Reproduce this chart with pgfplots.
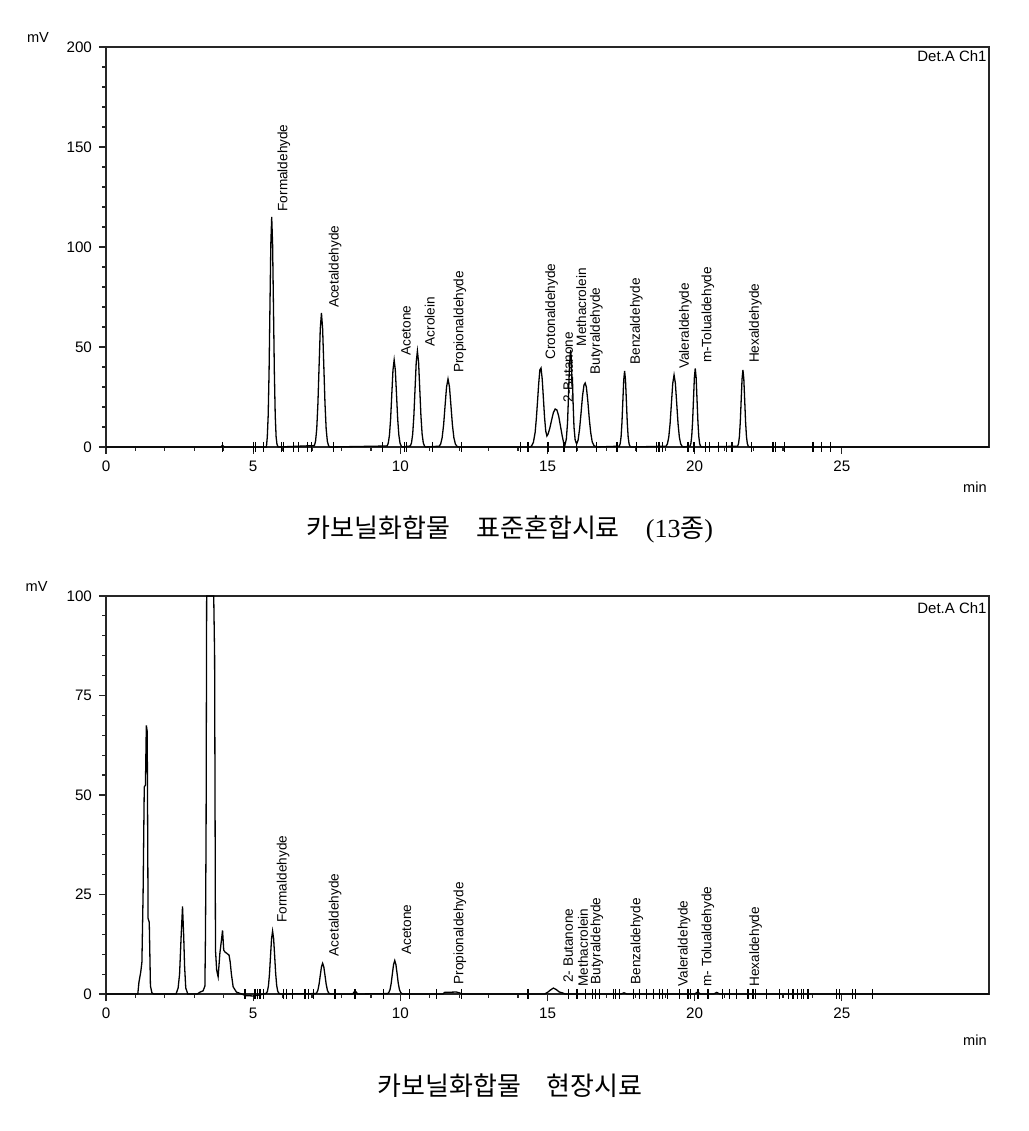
\documentclass[border=0pt]{standalone}
\usepackage{pgfplots}
\pgfplotsset{compat=1.18}
\usepackage{fontspec}
\setmainfont{Liberation Sans}
\newfontfamily\cjk{Noto Sans CJK KR}
\newfontfamily\serif{Liberation Serif}

\pgfplotsset{
  chrom/.style={
    scale only axis, width=441.5pt,
    xmin=0, xmax=30, xtick={0,5,10,15,20,25}, minor x tick num=4,
    minor y tick num=4,
    tick pos=left, tick align=outside,
    major tick length=3.5pt, minor tick length=1.8pt,
    axis line style={line width=0.8pt, black!85},
    every tick/.append style={black!85, line width=0.6pt},
    clip=false,
    ticklabel style={font=\fontsize{7.6}{8}\selectfont},
    /pgf/number format/assume math mode=true,
    anchor=south west,
  },
  trace/.style={black, line width=0.65pt, no markers, sharp plot},
  imark/.style={black, only marks, mark=|, mark size=2.6pt, mark options={line width=0.6pt}},
}
\tikzset{plab/.style={rotate=90, anchor=west, inner sep=0pt, font=\fontsize{6.8}{7}\selectfont}}

\begin{document}
\begin{tikzpicture}
\path[use as bounding box] (0,0) rectangle (514.5pt,565.5pt);

% ---------------- top chart ----------------
\begin{axis}[chrom, at={(53pt,342pt)}, height=200pt,
  ymin=0, ymax=200, ytick={0,50,100,150,200}]
\addplot[trace] coordinates {
(0,0)(3.90,0)(3.96,0.8)(4.02,0)(5.45,0)
(5.48,5.0)(5.51,15.6)(5.54,37.3)(5.57,69.7)(5.60,101.5)(5.63,115)(5.66,101.5)(5.69,69.7)(5.72,37.3)(5.75,15.6)(5.78,5.0)(5.81,1.3)(5.85,0)
(7.08,0.7)(7.12,2.9)(7.16,9.1)(7.20,21.8)(7.24,40.6)(7.28,59.1)(7.32,67)(7.36,59.1)(7.40,40.6)(7.44,21.8)(7.48,9.1)(7.52,2.9)(7.56,0.7)(7.6,0)
(9.55,0.5)(9.59,1.9)(9.63,5.9)(9.67,14.1)(9.71,26.4)(9.75,38.4)(9.79,43.5)(9.83,38.4)(9.87,26.4)(9.91,14.1)(9.95,5.9)(9.99,1.9)(10.03,0.5)(10.07,0)
(10.34,0.5)(10.38,2.1)(10.42,6.5)(10.46,15.6)(10.50,29.1)(10.54,42.4)(10.58,48)(10.62,42.4)(10.66,29.1)(10.70,15.6)(10.74,6.5)(10.78,2.1)(10.82,0.5)(10.86,0)
(11.32,0.4)(11.37,1.5)(11.42,4.6)(11.47,11.0)(11.52,20.6)(11.57,30.0)(11.62,34)(11.67,30.0)(11.72,20.6)(11.77,11.0)(11.82,4.6)(11.87,1.5)(11.92,0.4)(11.97,0)
(14.40,0)(14.46,0.5)(14.52,2.3)(14.58,7.3)(14.62,14)(14.66,22.5)(14.70,31.5)(14.74,38.5)(14.78,39.5)(14.82,34)(14.86,24.5)(14.90,14.8)(14.94,8)(14.98,5.5)
(15.02,6.5)(15.08,9.5)(15.14,13.5)(15.20,17.2)(15.26,19)(15.32,18.5)(15.38,15.5)(15.44,10.5)(15.50,5.5)(15.55,2)(15.59,0.8)
(15.64,4)(15.68,12)(15.71,24)(15.74,38)(15.77,46)(15.79,48.5)(15.81,44)(15.83,32)(15.85,33)(15.87,22)(15.90,10)(15.94,3.5)(15.99,1.5)
(16.04,3.5)(16.09,9)(16.14,17)(16.19,25.5)(16.24,31)(16.28,32)(16.32,30)(16.37,23)(16.42,14)(16.47,7)(16.52,2.5)(16.58,0.7)(16.66,0)
(17.44,0.4)(17.47,1.7)(17.50,5.1)(17.53,12.3)(17.56,23)(17.59,33.5)(17.62,38)(17.65,33.5)(17.68,23)(17.71,12.3)(17.74,5.1)(17.77,1.7)(17.80,0.4)(17.84,0)
(19.03,0.4)(19.075,1.6)(19.12,4.9)(19.165,11.7)(19.21,21.8)(19.255,31.8)(19.30,36)(19.345,31.8)(19.39,21.8)(19.435,11.7)(19.48,4.9)(19.525,1.6)(19.57,0.4)(19.62,0)
(19.84,0.4)(19.87,1.7)(19.90,5.3)(19.93,12.8)(19.96,23.8)(19.99,34.7)(20.02,39.3)(20.05,34.7)(20.08,23.8)(20.11,12.8)(20.14,5.3)(20.17,1.7)(20.20,0.4)(20.24,0)
(21.46,0.4)(21.49,1.7)(21.52,5.2)(21.55,12.5)(21.58,23.3)(21.61,34)(21.64,38.5)(21.67,34)(21.70,23.3)(21.73,12.5)(21.76,5.2)(21.79,1.7)(21.82,0.4)(21.86,0)
(30,0)
};
\addplot[imark] coordinates {
(3.96,0)(5.00,0)(5.08,0)(5.34,0)(5.96,0)(6.04,0)(6.36,0)(6.55,0)(6.84,0)(6.98,0)(7.72,0)
(9.39,0)(10.13,0)(10.21,0)(11.08,0)(12.08,0)
(14.09,0)(14.34,0)(15.02,0)(15.56,0)(15.98,0)(16.66,0)(17.36,0)(18.02,0)(18.70,0)(18.79,0)(18.90,0)
(19.77,0)(19.98,0)(20.36,0)(20.51,0)(20.82,0)(21.08,0)(21.27,0)(21.92,0)(22.66,0)(22.75,0)(23.06,0)
(24.02,0)(24.30,0)(24.62,0)
};
\node[plab] at (axis cs:6.04,117.6) {Formaldehyde};
\node[plab] at (axis cs:7.78,69.3) {Acetaldehyde};
\node[plab] at (axis cs:10.19,45.5) {Acetone};
\node[plab] at (axis cs:11.00,50.2) {Acrolein};
\node[plab] at (axis cs:12.02,36.8) {Propionaldehyde};
\node[plab] at (axis cs:15.14,43.5) {Crotonaldehyde};
\node[plab] at (axis cs:15.70,22.2) {2-Butanone};
\node[plab] at (axis cs:16.15,50.2) {Methacrolein};
\node[plab] at (axis cs:16.66,36.0) {Butyraldehyde};
\node[plab] at (axis cs:18.02,41.0) {Benzaldehyde};
\node[plab] at (axis cs:19.68,38.8) {Valeraldehyde};
\node[plab] at (axis cs:20.45,41.8) {m-Tolualdehyde};
\node[plab] at (axis cs:22.06,41.8) {Hexaldehyde};
\end{axis}

% ---------------- bottom chart ----------------
\begin{axis}[chrom, at={(53pt,68.5pt)}, height=199pt,
  ymin=0, ymax=100, ytick={0,25,50,75,100}]
\addplot[trace] coordinates {
(0,0)(1.08,0)(1.12,3)(1.18,5.5)(1.22,8)(1.26,25)(1.30,52)(1.34,52.5)(1.37,67.5)(1.40,66)(1.43,19)(1.47,18)(1.51,2)(1.56,0.3)(1.62,0)
(2.38,0)(2.45,1.5)(2.50,5)(2.55,14)(2.60,22)(2.64,14.5)(2.67,7)(2.71,1.5)(2.78,0)
(3.10,0)(3.20,0.5)(3.30,0.8)(3.36,2)(3.38,15)(3.40,40)(3.42,100)(3.66,100)(3.69,85)(3.70,60)(3.72,11)(3.76,6)(3.81,4.3)(3.87,10.3)(3.93,14)(3.96,16)
(4.00,11)(4.05,10.5)(4.09,10.3)(4.14,10)(4.18,9.8)(4.22,8)(4.26,5)(4.32,1.8)(4.43,0.5)(4.60,0)(4.75,-0.4)(5.00,-0.5)(5.25,-0.2)(5.35,0)
(5.45,0.2)(5.485,0.7)(5.52,2.1)(5.555,5.1)(5.59,9.6)(5.625,13.9)(5.66,15.8)(5.695,13.9)(5.73,9.6)(5.765,5.1)(5.80,2.1)(5.835,0.7)(5.87,0.2)(5.92,0)
(7.12,0.1)(7.16,0.3)(7.20,1.0)(7.24,2.5)(7.28,4.7)(7.32,6.8)(7.36,7.7)(7.40,6.8)(7.44,4.7)(7.48,2.5)(7.52,1.0)(7.56,0.3)(7.60,0.1)(7.65,0)
(8.38,0)(8.43,0.5)(8.46,0.7)(8.50,0.5)(8.55,0)
(9.57,0.1)(9.61,0.4)(9.65,1.1)(9.69,2.7)(9.73,5.1)(9.77,7.4)(9.81,8.4)(9.85,7.4)(9.89,5.1)(9.93,2.7)(9.97,1.1)(10.01,0.4)(10.05,0.1)(10.10,0)
(11.45,0)(11.50,0.4)(11.90,0.5)(12.00,0.3)(12.10,0)
(14.90,0)(15.00,0.4)(15.10,1.0)(15.20,1.5)(15.30,1.1)(15.40,0.5)(15.50,0.3)(15.60,0)
(17.50,0)(17.60,0.3)(17.70,0)(20.00,0)(20.10,0.5)(20.20,0)(20.65,0)(20.75,0.4)(20.85,0)
(30,0)
};
\addplot[imark] coordinates {
(4.72,0)(5.06,0)(5.14,0)(5.23,0)(5.34,0)(6.02,0)(6.14,0)(6.34,0)(6.76,0)(6.87,0)(7.04,0)(7.78,0)(7.81,0)(8.46,0)
(9.42,0)(10.32,0)(11.23,0)(12.08,0)
(14.34,0)(15.70,0)(16.00,0)(16.30,0)(16.53,0)(16.63,0)(16.77,0)(17.23,0)(17.31,0)(17.45,0)(17.91,0)(18.13,0)
(18.36,0)(18.61,0)(18.81,0)(18.92,0)(19.09,0)(19.49,0)(19.77,0)(19.85,0)(20.11,0)(20.45,0)(20.94,0)(21.19,0)
(21.42,0)(21.81,0)(21.98,0)(22.08,0)(22.43,0)(22.89,0)(23.20,0)(23.34,0)(23.49,0)(23.62,0)(23.70,0)(23.85,0)
(24.81,0)(24.92,0)(25.35,0)(25.47,0)(26.03,0)
};
\node[plab] at (axis cs:6.02,17.8) {Formaldehyde};
\node[plab] at (axis cs:7.78,9.4) {Acetaldehyde};
\node[plab] at (axis cs:10.21,9.8) {Acetone};
\node[plab] at (axis cs:12.02,2.3) {Propionaldehyde};
\node[plab] at (axis cs:15.70,2.7) {2- Butanone};
\node[plab] at (axis cs:16.21,1.8) {Methacrolein};
\node[plab] at (axis cs:16.68,2.3) {Butyraldehyde};
\node[plab] at (axis cs:18.04,2.3) {Benzaldehyde};
\node[plab] at (axis cs:19.64,1.8) {Valeraldehyde};
\node[plab] at (axis cs:20.45,1.8) {m- Tolualdehyde};
\node[plab] at (axis cs:22.07,1.8) {Hexaldehyde};
\end{axis}

% ---------------- texts ----------------
\node[font=\fontsize{7.3}{8}\selectfont] at (19pt,547pt) {mV};
\node[font=\fontsize{7.3}{8}\selectfont] at (18.3pt,272.5pt) {mV};
\node[font=\fontsize{7.3}{8}\selectfont] at (487.5pt,321.8pt) {min};
\node[font=\fontsize{7.3}{8}\selectfont] at (487.5pt,45.5pt) {min};
\node[anchor=east, inner sep=0pt, font=\fontsize{7.5}{8}\selectfont] at (493.5pt,537.2pt) {Det.A Ch1};
\node[anchor=east, inner sep=0pt, font=\fontsize{7.5}{8}\selectfont] at (493.5pt,261.3pt) {Det.A Ch1};
\node[font=\fontsize{13}{14}\selectfont] at (255pt,301pt) {{\cjk 카보닐화합물\quad 표준혼합시료}\quad{\serif (13}{\cjk 종}{\serif )}};
\node[font=\fontsize{13}{14}\selectfont] at (255pt,22.5pt) {{\cjk 카보닐화합물\quad 현장시료}};
\end{tikzpicture}
\end{document}
